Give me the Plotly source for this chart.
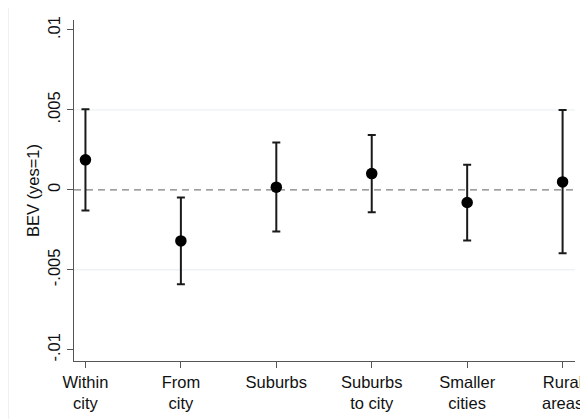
import plotly.graph_objects as go

# Estimates with confidence intervals
categories = ["Within<br>city", "From<br>city", "Suburbs", "Suburbs<br>to city",
              "Smaller<br>cities", "Rural<br>areas"]
positions = [1, 2, 3, 4, 5, 6]
estimate = [0.00188, -0.00319, 0.00017, 0.00102, -0.00079, 0.00050]
ci_upper = [0.00504, -0.00048, 0.00296, 0.00344, 0.00158, 0.00500]
ci_lower = [-0.00129, -0.00590, -0.00260, -0.00139, -0.00317, -0.00396]

ytick_vals = [-0.01, -0.005, 0, 0.005, 0.01]
ytick_text = ["-.01", "-.005", "0", ".005", ".01"]
grid_vals = [-0.005, 0.005]

err_plus = [u - e for u, e in zip(ci_upper, estimate)]
err_minus = [e - l for e, l in zip(estimate, ci_lower)]

font = dict(family="Liberation Sans, Arial", size=16.5, color="#111111")

fig = go.Figure()

# reference lines
for g in grid_vals:
    fig.add_hline(y=g, line=dict(color="#e6eef1", width=1), layer="below")
fig.add_hline(y=0, line=dict(color="#7f7f7f", width=1.4, dash="7px,5px"),
              layer="below")

fig.add_trace(go.Scatter(
    x=positions, y=estimate, mode="markers",
    marker=dict(color="black", size=11.5),
    error_y=dict(type="data", symmetric=False, array=err_plus,
                 arrayminus=err_minus, color="#1a1a1a", thickness=2, width=4),
    showlegend=False,
))

# faint outer frame
fig.add_shape(type="rect", xref="paper", yref="paper",
              x0=-0.131, x1=1.2, y0=-0.3, y1=1.047,
              line=dict(color="#eeeeee", width=1), layer="below")

fig.update_xaxes(
    range=[0.88, 6.13], tickvals=positions, ticktext=categories,
    showgrid=False, zeroline=False, showline=True, linecolor="#555555",
    linewidth=1.4, ticks="outside", ticklen=6, tickcolor="#555555",
    tickwidth=1.2, tickfont=font, automargin=False,
    ticklabeloverflow="allow",
)
fig.update_yaxes(
    range=[-0.0107, 0.010625], tickvals=ytick_vals, ticktext=ytick_text,
    tickangle=-90, showgrid=False, zeroline=False, showline=True,
    linecolor="#555555", linewidth=1.4, ticks="outside", ticklen=6,
    tickcolor="#555555", tickwidth=1.2, tickfont=font, automargin=False,
    title=dict(text="BEV (yes=1)", standoff=1, font=font),
)

# page body adds an 8px offset, margins compensate for it
fig.update_layout(
    width=580, height=411,
    margin=dict(l=65.5, r=13, t=12, b=58),
    plot_bgcolor="white", paper_bgcolor="white",
)

fig.write_html("out.html")
